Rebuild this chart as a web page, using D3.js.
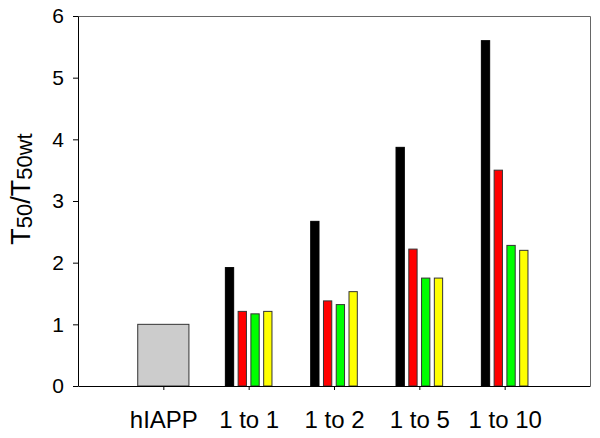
<!DOCTYPE html>
<html>
<head>
<meta charset="utf-8">
<script src="https://cdn.jsdelivr.net/npm/d3@7"></script>
<style>
    body { margin: 0; background: #fff; }
    svg { display: block; font-family: "Liberation Sans", Arial, sans-serif; }
</style>
</head>
<body>
<div id="chart"></div>
<script>
// data
const categories = ["hIAPP", "1 to 1", "1 to 2", "1 to 5", "1 to 10"];
const controlValues = [1.0];            // hIAPP
const ratioLabels = ["1 to 1", "1 to 2", "1 to 5", "1 to 10"];
const blackValues = [1.92, 2.67, 3.87, 5.60];
const redValues = [1.21, 1.38, 2.22, 3.50];
const greenValues = [1.17, 1.32, 1.75, 2.28];
const yellowValues = [1.21, 1.53, 1.75, 2.20];
const seriesNames = ["black", "red", "green", "yellow"];
const seriesColors = ["#000000", "#ff0000", "#00ff00", "#ffff00"];
const yTicks = [0, 1, 2, 3, 4, 5, 6];

const W = 600, H = 438;
var margin = { top: 16, right: 10, bottom: 52, left: 78 },
    width = W - margin.left - margin.right,
    height = H - margin.top - margin.bottom;

const svg = d3.select("#chart").append("svg")
    .attr("width", W)
    .attr("height", H);

const g = svg.append("g")
    .attr("transform", "translate(" + margin.left + "," + margin.top + ")");

// scales
const x = d3.scalePoint().domain(categories).range([0, width]).padding(1);
const y = d3.scaleLinear().domain([0, 6]).range([height, 0]);
const sub = d3.scaleBand().domain(seriesNames).range([-23.3, 23.3]).paddingInner(0.35);

// frame (top + right)
g.append("line")
    .attr("x1", 0).attr("x2", width + 0.5)
    .attr("y1", 0.5).attr("y2", 0.5)
    .attr("stroke", "#666");
g.append("line")
    .attr("x1", width + 0.5).attr("x2", width + 0.5)
    .attr("y1", 0.5).attr("y2", height)
    .attr("stroke", "#666");

// control bar
const cw = x.step() * 0.6;
g.selectAll(".ctrl")
    .data(controlValues)
    .enter().append("rect")
    .attr("class", "ctrl")
    .attr("x", x("hIAPP") - cw / 2)
    .attr("width", cw)
    .attr("y", d => y(d))
    .attr("height", d => y(0) - y(d))
    .attr("fill", "#cccccc")
    .attr("stroke", "#333")
    .attr("stroke-width", 1);

// grouped bars
const allSeries = [blackValues, redValues, greenValues, yellowValues];
const rows = [];
allSeries.forEach(function (vals, si) {
    vals.forEach(function (v, i) {
        rows.push({ cat: ratioLabels[i], s: seriesNames[si], color: seriesColors[si], v: v });
    });
});

g.selectAll(".bar")
    .data(rows)
    .enter().append("rect")
    .attr("class", "bar")
    .attr("x", d => x(d.cat) + sub(d.s))
    .attr("width", sub.bandwidth())
    .attr("y", d => y(d.v))
    .attr("height", d => y(0) - y(d.v))
    .attr("fill", d => d.color)
    .attr("stroke", d => d.s === "black" ? "#000" : "#333")
    .attr("stroke-width", 1);

// y axis
const yAxis = g.append("g")
    .call(d3.axisLeft(y).tickValues(yTicks).tickFormat(d3.format("d"))
        .tickSize(5).tickSizeOuter(0).tickPadding(9));
yAxis.selectAll("text").attr("font-size", 21).attr("fill", "#000")
    .style("font-family", "'Liberation Sans', Arial, sans-serif");
yAxis.selectAll("line, path").attr("stroke", "#000");

// x axis
const xAxis = g.append("g")
    .attr("transform", "translate(0," + height + ")")
    .call(d3.axisBottom(x).tickSize(4).tickSizeOuter(0).tickPadding(21));
xAxis.select(".domain").attr("d", "M0.5,0.5H" + (width + 0.5));
xAxis.selectAll("text").attr("font-size", 24).attr("fill", "#000")
    .style("font-family", "'Liberation Sans', Arial, sans-serif");
xAxis.selectAll("line, path").attr("stroke", "#000");

// y label T50/T50wt
const lab = svg.append("text")
    .attr("transform", "translate(30,189) rotate(-90)")
    .attr("text-anchor", "middle")
    .attr("font-size", 27)
    .attr("fill", "#000");
lab.append("tspan").text("T");
lab.append("tspan").attr("font-size", 22).attr("dy", 2).text("50");
lab.append("tspan").attr("dy", -2).text("/T");
lab.append("tspan").attr("font-size", 22).attr("dy", 2).text("50wt");
</script>
</body>
</html>
